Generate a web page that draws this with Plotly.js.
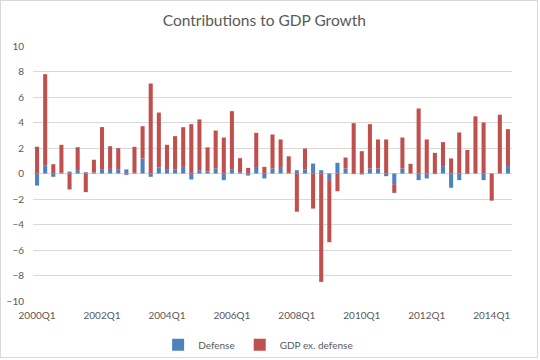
<!DOCTYPE html>
<html>
<head>
<meta charset="utf-8">
<script src="https://cdn.plot.ly/plotly-3.0.1.min.js"></script>
<style>
html,body{margin:0;padding:0;background:#fff;}
#wrap{position:absolute;left:0;top:0;width:536px;height:356px;border:1px solid #d9d9d9;}
#chart{position:absolute;left:-1px;top:-1px;width:540px;height:360px;}
</style>
</head>
<body>
<div id="wrap"><div id="chart"></div></div>
<script>
var quarters = [];
(function(){
  for (var y = 2000; y <= 2014; y++) {
    for (var q = 1; q <= 4; q++) {
      if (y === 2014 && q > 3) break;
      quarters.push(y + "Q" + q);
    }
  }
})();

var defense = [
  -0.95, 0.65, -0.26, 0.05,
  0.15, 0.26, 0.10, 0.08,
  0.34, 0.36, 0.29, 0.32,
  0.05, 1.18, -0.26, 0.47,
  0.29, 0.31, 0.52, -0.47,
  0.26, 0.15, 0.40, -0.52,
  0.34, 0.10, -0.16, 0.44,
  -0.39, 0.39, 0.44, 0.05,
  0.26, 0.31, 0.78, 0.26,
  -0.52, 0.84, 0.39, -0.05,
  -0.08, 0.39, 0.39, -0.21,
  -0.84, 0.39, 0.03, -0.52,
  -0.39, -0.05, 0.58, -1.12,
  -0.52, -0.05, 0.03, -0.52,
  -0.03, 0.03, 0.58
];

var gdpExDefense = [
  2.1, 7.14, 0.73, 2.2,
  -1.25, 1.8, -1.46, 1.0,
  3.3, 1.78, 1.7, -0.1,
  2.04, 2.53, 7.06, 4.31,
  1.96, 2.62, 3.11, 3.87,
  3.98, 1.9, 2.97, 2.82,
  4.55, 1.1, 0.44, 2.75,
  0.52, 2.67, 2.23, 1.3,
  -3.0, 1.65, -2.75, -8.5,
  -4.87, -1.39, 0.86, 3.95,
  1.75, 3.48, 2.28, 2.67,
  -0.68, 2.43, 0.73, 5.1,
  2.67, 1.62, 1.88, 1.18,
  3.22, 1.85, 4.45, 4.0,
  -2.1, 4.58, 2.9
];

var xTickLabels = ["2000Q1","2002Q1","2004Q1","2006Q1","2008Q1","2010Q1","2012Q1","2014Q1"];
var yTicks = [-10,-8,-6,-4,-2,0,2,4,6,8,10];

var font = "Lato, 'Open Sans', 'Noto Sans', sans-serif";
var grey = "#595959";

var traces = [
  {type:"bar", name:"Defense", x:quarters, y:defense, marker:{color:"#4F81BD"}},
  {type:"bar", name:"GDP ex. defense", x:quarters, y:gdpExDefense, marker:{color:"#C0504D"}}
];

var layout = {
  width:540, height:360,
  margin:{l:33, r:28, t:46, b:59, autoexpand:false},
  paper_bgcolor:"rgba(0,0,0,0)", plot_bgcolor:"#fff",
  barmode:"relative", bargap:0.5,
  font:{family:font, color:grey, size:10},
  title:{text:"Contributions to GDP Growth", x:0.483, xanchor:"center", xref:"paper",
         y:0.942, yanchor:"middle",
         font:{family:font, size:15.5, color:grey}},
  xaxis:{type:"category", tickmode:"array", tickvals:xTickLabels, ticktext:xTickLabels,
         showgrid:false, zeroline:false, showline:false, ticks:"", tickangle:0,
         ticklabelstandoff:7, tickfont:{size:10, color:grey}},
  yaxis:{range:[-10,10], tickmode:"array", tickvals:yTicks, showgrid:true, gridcolor:"#d9d9d9",
         gridwidth:1, zeroline:true, zerolinecolor:"#d9d9d9", zerolinewidth:1,
         showline:false, ticks:"", ticklabelstandoff:8, tickfont:{size:10, color:grey}},
  legend:{orientation:"h", x:0.47, xanchor:"center", y:-0.115, yanchor:"top",
          font:{size:10, color:grey}, itemwidth:30, traceorder:"normal"},
  showlegend:true
};

Plotly.newPlot("chart", traces, layout, {displayModeBar:false, staticPlot:true});
</script>
</body>
</html>
